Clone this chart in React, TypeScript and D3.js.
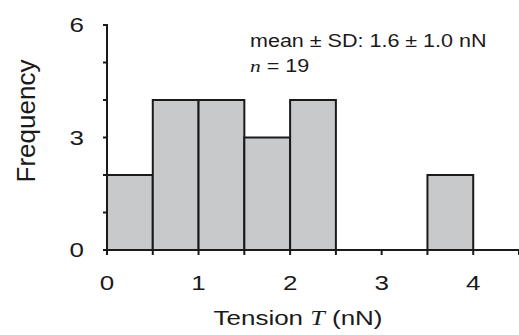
import * as d3 from 'd3';

// histogram of tension values (nN)
const binEdges = [0, 0.5, 1, 1.5, 2, 2.5, 3, 3.5, 4];
const counts = [2, 4, 4, 3, 4, 0, 0, 2];
const xTicks = [0, 1, 2, 3, 4];
const xMinorTicks = [0, 0.5, 1, 1.5, 2, 2.5, 3, 3.5, 4, 4.5];
const yTicks = [0, 3, 6];
const yMinorTicks = [0, 1, 2, 3, 4, 5, 6];
const statsLabel = 'mean ± SD: 1.6 ± 1.0 nN';
const nLabel = '= 19';

const W = 519;
const H = 335;
const SANS = '"Liberation Sans", Arial, Helvetica, sans-serif';
const SERIF = '"Liberation Serif", "Times New Roman", serif';
const INK = '#1a1a1a';

export default function App() {
  const x = d3.scaleLinear().domain([0, 4.5]).range([107, 519]);
  const y = d3.scaleLinear().domain([0, 6]).range([250, 25]);

  const bars = counts.map((c, i) => ({ x0: binEdges[i], x1: binEdges[i + 1], c }));

  return (
    <svg
      width={W}
      height={H}
      style={{ position: 'absolute', left: 0, top: 0, background: '#fff' }}
      fontFamily={SANS}
    >
      {/* bars */}
      {bars.filter((b) => b.c > 0).map((b, i) => (
        <rect
          key={i}
          x={x(b.x0)}
          y={y(b.c)}
          width={x(b.x1) - x(b.x0)}
          height={y(0) - y(b.c)}
          fill="#c8c9cb"
          stroke={INK}
          strokeWidth={2}
        />
      ))}

      {/* y axis */}
      <line x1={x(0)} x2={x(0)} y1={y(6) - 1} y2={y(0)} stroke={INK} strokeWidth={2} />
      {yMinorTicks.map((t) => (
        <line key={t} x1={x(0) - 4} x2={x(0)} y1={y(t)} y2={y(t)} stroke={INK} strokeWidth={2} />
      ))}
      {yTicks.map((t) => (
        <text
          key={t}
          transform={`translate(84,${y(t) + 7}) scale(1.3,1)`}
          textAnchor="end"
          fontSize={20}
          fill={INK}
        >
          {t}
        </text>
      ))}

      {/* x axis */}
      <line x1={x(0) - 2} x2={W} y1={y(0)} y2={y(0)} stroke={INK} strokeWidth={2} />
      {xMinorTicks.map((t) => (
        <line key={t} x1={x(t)} x2={x(t)} y1={y(0)} y2={y(0) + 5} stroke={INK} strokeWidth={2} />
      ))}
      {xTicks.map((t) => (
        <text
          key={t}
          transform={`translate(${x(t)},290) scale(1.3,1)`}
          textAnchor="middle"
          fontSize={20}
          fill={INK}
        >
          {t}
        </text>
      ))}

      {/* axis titles */}
      <text transform="translate(298,325) scale(1.3,1)" textAnchor="middle" fontSize={20} fill={INK}>
        Tension{' '}
        <tspan fontFamily={SERIF} fontStyle="italic">T</tspan>
        {' '}(nN)
      </text>
      <text
        transform="translate(35,121) rotate(-90)"
        textAnchor="middle"
        fontSize={26}
        fill={INK}
      >
        Frequency
      </text>

      {/* annotation */}
      <text transform="translate(250,47) scale(1.23,1)" fontSize={17.5} fill={INK}>
        {statsLabel}
      </text>
      <text transform="translate(250,72) scale(1.23,1)" fontSize={17.5} fill={INK}>
        <tspan fontFamily={SERIF} fontStyle="italic">n</tspan> {nLabel}
      </text>
    </svg>
  );
}
